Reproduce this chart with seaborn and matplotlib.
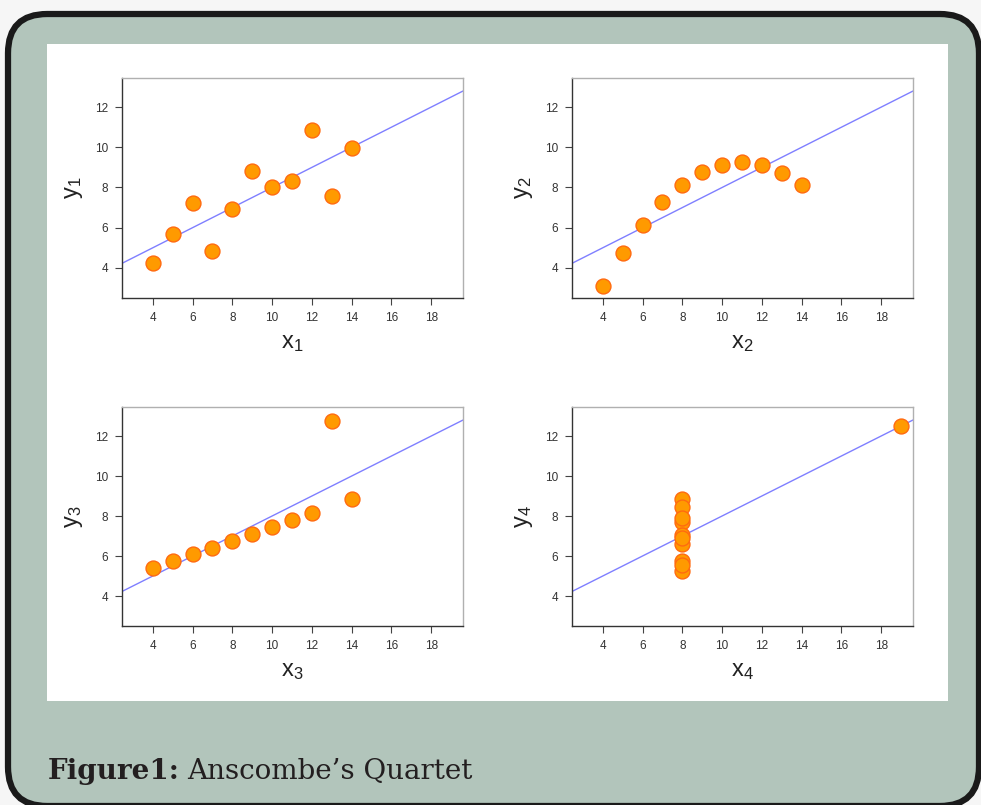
import numpy as np
import pandas as pd
import seaborn as sns
import matplotlib
matplotlib.use("Agg")
import matplotlib.pyplot as plt
from matplotlib.patches import FancyBboxPatch, Rectangle

# ---- data (Anscombe's quartet) ----
x123 = [10, 8, 13, 9, 11, 14, 6, 4, 12, 7, 5]
y1 = [8.04, 6.95, 7.58, 8.81, 8.33, 9.96, 7.24, 4.26, 10.84, 4.82, 5.68]
y2 = [9.14, 8.14, 8.74, 8.77, 9.26, 8.10, 6.13, 3.10, 9.13, 7.26, 4.74]
y3 = [7.46, 6.77, 12.74, 7.11, 7.81, 8.84, 6.08, 5.39, 8.15, 6.42, 5.73]
x4 = [8, 8, 8, 8, 8, 8, 8, 19, 8, 8, 8]
y4 = [6.58, 5.76, 7.71, 8.84, 8.47, 7.04, 5.25, 12.50, 5.56, 7.91, 6.89]
x_ticks = [4, 6, 8, 10, 12, 14, 16, 18]
y_ticks = [4, 6, 8, 10, 12]
caption_bold = "Figure1:"
caption_text = "Anscombe\u2019s Quartet"

sets = [(x123, y1, "1"), (x123, y2, "2"), (x123, y3, "3"), (x4, y4, "4")]

sns.set_theme(style="white")
plt.rcParams['font.family'] = ['Liberation Sans', 'DejaVu Sans']
plt.rcParams['mathtext.fontset'] = 'custom'
plt.rcParams['mathtext.rm'] = 'Liberation Sans'
plt.rcParams['mathtext.it'] = 'Liberation Sans'

W, H = 981, 805
fig = plt.figure(figsize=(W / 100, H / 100), dpi=100)
fig.patch.set_facecolor("#f6f6f6")

def px(x0, y0, x1, y1_):
    return (x0 / W, 1 - y1_ / H, (x1 - x0) / W, (y1_ - y0) / H)

# outer rounded frame
l, b, w, h = px(8, 14, 979, 806)
frame = FancyBboxPatch((l, b), w, h, boxstyle="round,pad=0,rounding_size=0.04",
                       transform=fig.transFigure, facecolor="#b2c5bb",
                       edgecolor="#1a1a1a", linewidth=4.5, zorder=-3,
                       mutation_aspect=W / H)
fig.patches.append(frame)
l, b, w, h = px(47, 44, 948, 701)
fig.patches.append(Rectangle((l, b), w, h, transform=fig.transFigure,
                             facecolor="white", edgecolor="none", zorder=-2))

positions = [(122, 78, 463, 298), (572, 78, 913, 298),
             (122, 407, 463, 626), (572, 407, 913, 626)]

for (xs, ys, k), pos in zip(sets, positions):
    ax = fig.add_axes(px(*pos))
    ax.set_xlim(2.45, 19.6)
    ax.set_ylim(2.5, 13.45)
    df = pd.DataFrame({"x": xs, "y": ys})
    sns.regplot(data=df, x="x", y="y", ax=ax, ci=None, truncate=False,
                scatter_kws=dict(s=115, color="#ff9a00", edgecolor="#ff6a10",
                                 linewidths=1.0, alpha=1, zorder=3),
                line_kws=dict(color="#7f7fff", linewidth=1.0, zorder=2))
    ax.set_xlim(2.45, 19.6)
    ax.set_ylim(2.5, 13.45)
    ax.set_xticks(x_ticks)
    ax.set_yticks(y_ticks)
    ax.tick_params(axis="both", which="both", direction="out", length=5,
                   width=0.8, color="#444444", labelsize=8.5,
                   labelcolor="#333333", pad=5, left=True, bottom=True)
    for s in ["left", "bottom"]:
        ax.spines[s].set_color("#333333")
        ax.spines[s].set_linewidth(1.0)
    for s in ["top", "right"]:
        ax.spines[s].set_color("#b0b0b0")
        ax.spines[s].set_linewidth(1.0)
        ax.spines[s].set_visible(True)
    ax.set_xlabel(f"$\\mathrm{{x}}_{{\\mathrm{{{k}}}}}$", fontsize=17,
                  color="#222222", labelpad=6)
    ax.set_ylabel(f"$\\mathrm{{y}}_{{\\mathrm{{{k}}}}}$", fontsize=17,
                  color="#222222", labelpad=7)

t = fig.text(48 / W, 1 - 779 / H, caption_bold, fontsize=20, fontweight="bold",
             family=["DejaVu Serif"], color="#231f20", va="baseline")
fig.canvas.draw()
bb = t.get_window_extent()
fig.text((bb.x1 + 7) / W, 1 - 779 / H, caption_text, fontsize=20,
         family=["DejaVu Serif"], color="#231f20", va="baseline")

fig.savefig("out.png", dpi=100, facecolor=fig.get_facecolor())
